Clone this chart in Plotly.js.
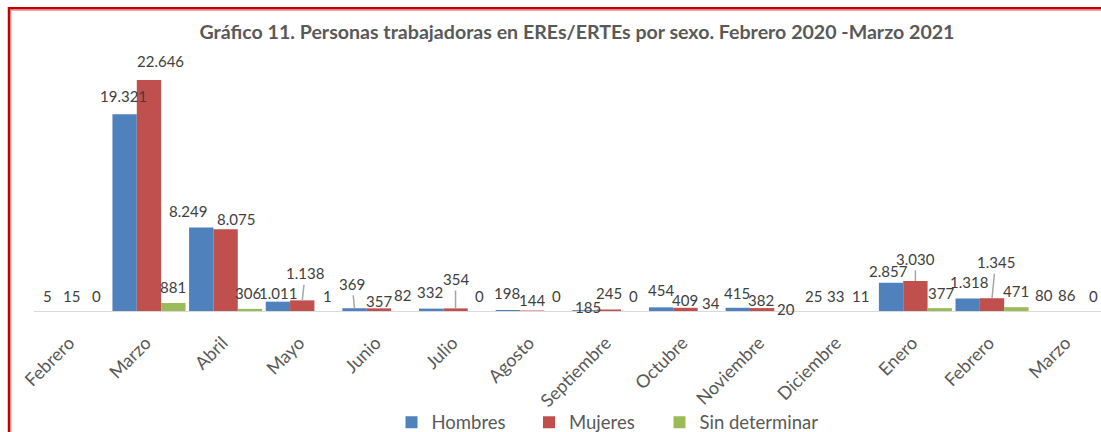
<!DOCTYPE html>
<html>
<head>
<meta charset="utf-8">
<script src="https://cdn.plot.ly/plotly-3.0.1.min.js"></script>
<style>
html, body { margin: 0; padding: 0; overflow: hidden; background: #ffffff; }
#chart { width: 1107px; height: 445px; }
</style>
</head>
<body>
<div id="chart"></div>
<script>
// ---- data ----
const months = ["Febrero", "Marzo", "Abril", "Mayo", "Junio", "Julio", "Agosto", "Septiembre",
                "Octubre", "Noviembre", "Diciembre", "Enero", "Febrero", "Marzo"];
const hombres = [5, 19321, 8249, 1011, 369, 332, 198, 185, 454, 415, 25, 2857, 1318, 80];
const mujeres = [15, 22646, 8075, 1138, 357, 354, 144, 245, 409, 382, 33, 3030, 1345, 86];
const sinDeterminar = [0, 881, 306, 1, 82, 0, 0, 0, 34, 20, 11, 377, 471, 0];
const seriesNames = ["Hombres", "Mujeres", "Sin determinar"];
const chartTitle = "Gráfico 11. Personas trabajadoras en EREs/ERTEs por sexo. Febrero 2020 -Marzo 2021";

// ---- label placement (pixel nudges relative to bar top centre) ----
const labelDx = [
  [0, -1, -13, 0, -2.5, -1, -1, 3.6, 0, -1, -1, -3, 1, -0.6],
  [-1, 12, 10, 3, 0, 0, 0, 0, 0, -1, -3, 0, 3.5, -1.5],
  [-0.5, -0.5, -1.5, 0.5, -1, 0, 0, 0, 0.7, 0, -3, 1, 0, 0]
];
const labelDy = [
  [15.7, 18.2, 16.8, 8.7, 24.3, 16.3, 16.7, 2.8, 17.7, 14.5, 15.4, 11.6, 16.3, 16.2],
  [15.6, 19.4, 9.9, 27.1, 7.7, 29.3, 10.5, 16.2, 7.8, 8.1, 15.3, 22.2, 36, 16.1],
  [15.7, 15.7, 15.9, 15.7, 16.2, 15.7, 15.7, 15.7, 8.3, 2.8, 15.6, 15.2, 16.5, 15.7]
];
// leader lines: [series, monthIndex]
const leaders = [[0, 4], [1, 3], [1, 5], [1, 11], [1, 12]];
// legend entry left edges (px)
const legendLeft = [391.5, 529, 659.5];

const colors = ["#4f81bd", "#c0504d", "#9bbb59"];
const FONT = "Lato, 'Open Sans', sans-serif";
const bargap = 0.047;
const legendIds = ["legend", "legend2", "legend3"];

const idx = months.map((m, i) => i);
const values = [hombres, mujeres, sinDeterminar];

const traces = values.map((vals, k) => ({
  type: "bar",
  name: seriesNames[k],
  x: idx,
  y: vals,
  legend: legendIds[k],
  marker: { color: colors[k], line: { width: 0 } },
  hoverinfo: "x+y+name"
}));

const bw = (1 - bargap) / 3;
const fmt = v => v.toLocaleString("de-DE");
const annotations = [];
values.forEach((vals, k) => {
  vals.forEach((v, i) => {
    const isLeader = leaders.some(l => l[0] === k && l[1] === i);
    const a = {
      x: i + (k - 1) * bw,
      y: v,
      xref: "x", yref: "y",
      text: fmt(v),
      font: { family: FONT, size: 15, color: "#404040" },
      xanchor: "center",
      yanchor: "middle"
    };
    if (isLeader) {
      a.showarrow = true;
      a.arrowhead = 0;
      a.arrowwidth = 1.5;
      a.arrowcolor = "#a6a6a6";
      a.ax = labelDx[k][i];
      a.ay = -labelDy[k][i];
      a.standoff = 0;
      a.borderpad = 2;
    } else {
      a.showarrow = false;
      a.xshift = labelDx[k][i];
      a.yshift = labelDy[k][i];
    }
    annotations.push(a);
  });
});

const PL = 34, PW = 1073, PB = 312, PH = 252;
const legendStyle = (left) => ({
  orientation: "h",
  x: (left - PL) / PW, xanchor: "left",
  y: (PB - 422.7) / PH, yanchor: "middle",
  font: { family: FONT, size: 18.5, color: "#595959" },
  itemwidth: 30,
  bgcolor: "rgba(0,0,0,0)"
});

const layout = {
  width: 1107,
  height: 445,
  margin: { l: PL, r: 0, t: 60, b: 133, pad: 0 },
  paper_bgcolor: "#ffffff",
  plot_bgcolor: "#ffffff",
  barmode: "group",
  bargap: bargap,
  bargroupgap: 0,
  title: {
    text: "<b>" + chartTitle + "</b>",
    font: { family: FONT, size: 19.6, color: "#595959" },
    x: 577 / 1107, xanchor: "center",
    y: 1 - 31.7 / 445, yanchor: "middle"
  },
  xaxis: {
    range: [-0.5, 13.5],
    tickmode: "array",
    tickvals: idx,
    ticktext: months,
    tickangle: -45,
    ticks: "",
    showgrid: false,
    zeroline: false,
    showline: false,
    ticklabelstandoff: 16,
    ticklabelshift: -3,
    tickfont: { family: FONT, size: 18, color: "#595959" },
    fixedrange: true
  },
  yaxis: {
    range: [0, 24610],
    visible: false,
    showgrid: false,
    zeroline: false,
    fixedrange: true
  },
  showlegend: true,
  legend: legendStyle(legendLeft[0]),
  legend2: legendStyle(legendLeft[1]),
  legend3: legendStyle(legendLeft[2]),
  annotations: annotations,
  shapes: [
    {
      type: "line", xref: "paper", yref: "y",
      x0: 0, x1: 1, y0: 0, y1: 0,
      line: { color: "#d9d9d9", width: 2 }, layer: "above"
    },
    {
      type: "rect", xref: "paper", yref: "paper",
      x0: (9 - PL) / PW, x1: 1.2, y0: -1, y1: (PB - 8.3) / PH,
      line: { color: "#c00000", width: 2.5 }, layer: "above"
    },
    {
      type: "rect", xref: "paper", yref: "paper",
      x0: (10.8 - PL) / PW, x1: 1.2, y0: -1, y1: (PB - 10.1) / PH,
      line: { color: "#e57373", width: 1 }, layer: "above"
    }
  ]
};

Plotly.newPlot("chart", traces, layout, { displayModeBar: false, staticPlot: true });
</script>
</body>
</html>
